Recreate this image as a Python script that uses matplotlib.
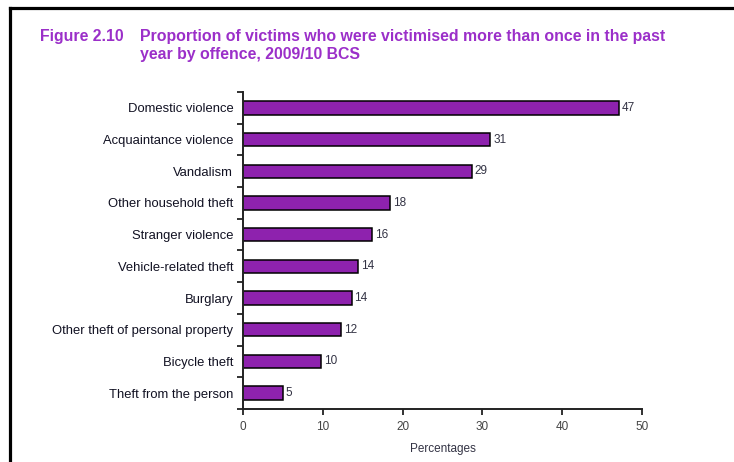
import matplotlib.pyplot as plt
from matplotlib.lines import Line2D
from matplotlib.ticker import FixedLocator
import numpy as np

# Offences, top to bottom
offences = ['Domestic violence', 'Acquaintance violence', 'Vandalism',
            'Other household theft', 'Stranger violence', 'Vehicle-related theft',
            'Burglary', 'Other theft of personal property', 'Bicycle theft',
            'Theft from the person']
# Percentage of victims victimised more than once
percentages = [47.1, 31.0, 28.7, 18.4, 16.2, 14.4, 13.6, 12.3, 9.8, 5.0]

xticks = [0, 10, 20, 30, 40, 50]

purple = '#8E22AE'
title_col = '#9B2FC9'
plt.rcParams['font.family'] = ['Liberation Sans', 'DejaVu Sans']

fig = plt.figure(figsize=(7.34, 4.62), dpi=100)
ax = fig.add_axes([243 / 734, 53 / 462, 399 / 734, 317 / 462])

ypos = np.arange(len(offences))
bars = ax.barh(ypos, percentages, height=0.42, color=purple,
               edgecolor='black', linewidth=1.1)

# value labels at the end of each bar
for y, v in zip(ypos, percentages):
    ax.text(v + 0.35, y, f'{v:.0f}', va='center', ha='left',
            fontsize=8.5, color='#333344')

ax.set_ylim(len(offences) - 0.5, -0.5)
ax.set_xlim(0, 50)
ax.set_yticks(ypos)
ax.set_yticklabels(offences, fontsize=9.4, color='#111122')
ax.yaxis.set_minor_locator(FixedLocator(np.arange(-0.5, len(offences), 1.0)))
ax.tick_params(axis='y', which='major', length=0, pad=7)
ax.tick_params(axis='y', which='minor', length=4, width=1.3, color='#222222')
ax.set_xticks(xticks)
ax.set_xticklabels([str(t) for t in xticks], fontsize=8.5, color='#444444')
ax.tick_params(axis='x', length=4, width=1.3, color='#222222', pad=5)
ax.set_xlabel('Percentages', fontsize=8.5, color='#333344', labelpad=7)

for s in ['top', 'right']:
    ax.spines[s].set_visible(False)
for s in ['left', 'bottom']:
    ax.spines[s].set_linewidth(1.4)
    ax.spines[s].set_color('#222222')

# title block
fig.text(40 / 734, 1 - 37 / 462, 'Figure 2.10', fontsize=11.4, fontweight='bold',
         color=title_col, va='center', ha='left')
fig.text(140 / 734, 1 - 37 / 462,
         'Proportion of victims who were victimised more than once in the past',
         fontsize=11.4, fontweight='bold', color=title_col, va='center', ha='left')
fig.text(140 / 734, 1 - 55 / 462, 'year by offence, 2009/10 BCS',
         fontsize=11.4, fontweight='bold', color=title_col, va='center', ha='left')

# frame lines along the top and left edge
fig.add_artist(Line2D([10 / 734, 1], [1 - 7.5 / 462, 1 - 7.5 / 462],
                      color='black', linewidth=2.3))
fig.add_artist(Line2D([10 / 734, 10 / 734], [0, 1 - 7.5 / 462],
                      color='black', linewidth=2.3))

fig.savefig('out.png', dpi=100)
